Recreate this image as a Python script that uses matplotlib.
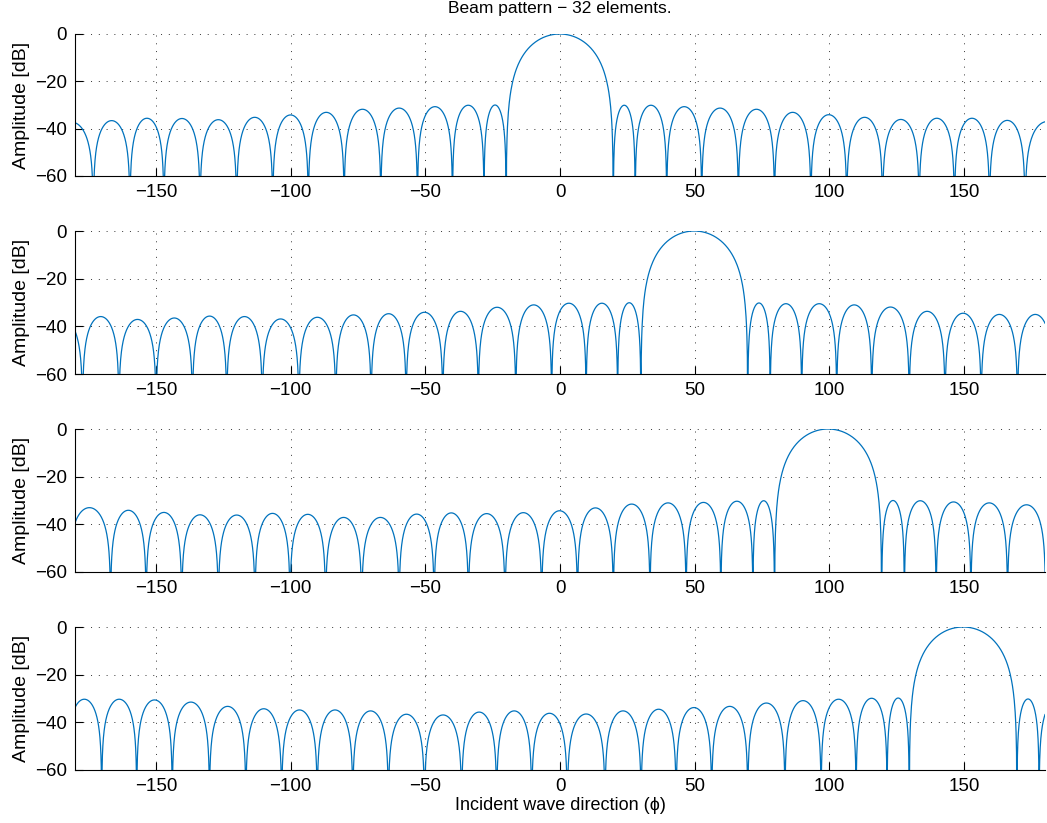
import numpy as np
import matplotlib
matplotlib.use("Agg")
import matplotlib.pyplot as plt

plt.rcParams['font.family'] = ['Liberation Sans', 'DejaVu Sans']

# Null directions (deg) and lobe peak levels (dB),
# one list pair per steering angle (0, 50, 100, 150 deg).
nulls_0 = [-189.0, -173.2, -159.6, -147.0, -133.6, -120.0, -106.6, -93.4, -80.1, -66.5,
           -52.9, -39.9, -28.2, -20.0, 19.8, 27.9, 39.6, 52.6, 66.2, 79.6, 93.1, 106.4,
           119.7, 133.3, 146.4, 159.4, 172.6, 189.0]
peaks_0 = [-37.3, -36.6, -35.6, -35.7, -36.2, -35.2, -34.2, -33.1, -31.8, -31.3, -30.7,
           -30.1, -30.0, 0.0, -30.1, -30.1, -30.7, -31.3, -31.8, -33.1, -34.1, -35.2,
           -36.1, -35.6, -35.6, -36.5, -37.0]

nulls_50 = [-196.0, -177.2, -163.7, -149.9, -136.4, -123.7, -110.5, -96.9, -83.2, -70.1,
            -57.1, -43.5, -30.3, -16.4, -3.1, 9.7, 21.4, 30.0, 69.7, 78.0, 89.7, 102.7,
            115.7, 129.6, 142.9, 156.3, 169.8, 183.0]
peaks_50 = [-35.0, -35.9, -37.1, -36.5, -35.7, -35.9, -36.9, -36.2, -35.2, -34.7, -34.1,
            -33.7, -32.0, -31.0, -30.3, -30.3, -30.1, 0.0, -30.2, -30.5, -30.5, -31.0,
            -31.9, -33.7, -34.5, -35.0, -35.0]

nulls_100 = [-182.5, -166.8, -153.6, -140.4, -126.8, -113.2, -100.2, -87.0, -73.6, -59.7,
             -46.7, -34.0, -20.4, -6.8, 6.5, 19.8, 33.4, 46.8, 59.7, 71.6, 79.6, 119.4,
             127.8, 139.6, 152.5, 166.1, 180.2]
peaks_100 = [-33.0, -34.1, -35.0, -36.0, -36.1, -35.4, -35.8, -37.1, -37.1, -35.7, -35.2,
             -35.5, -35.1, -34.3, -33.1, -31.5, -31.0, -30.8, -30.3, -30.1, 0.0, -30.0,
             -30.1, -30.6, -31.0, -31.8]

nulls_150 = [-183.0, -170.1, -157.1, -143.9, -130.1, -116.6, -103.3, -90.1, -76.9, -63.7,
             -50.3, -36.5, -23.5, -10.5, 2.7, 16.7, 30.1, 43.1, 56.3, 69.7, 83.5, 96.9,
             109.9, 121.4, 129.6, 169.6, 177.8, 189.0]
peaks_150 = [-30.3, -30.3, -30.6, -31.5, -33.3, -34.3, -34.8, -34.8, -35.2, -36.6, -36.9,
             -35.7, -35.2, -36.2, -36.5, -35.2, -34.5, -33.8, -33.3, -31.9, -30.9, -30.3,
             -29.9, -29.8, 0.0, -30.2, -32.0]

panels = [(nulls_0, peaks_0), (nulls_50, peaks_50), (nulls_100, peaks_100), (nulls_150, peaks_150)]

x_ticks = [-150, -100, -50, 0, 50, 100, 150]
y_ticks = [-60, -40, -20, 0]

LINE_COLOR = '#0072BD'
MAIN_SHARPNESS = 1.4


# Build the trace lobe by lobe between the read nulls
def build_trace(nulls, peaks):
    xs, ys = [], []
    for a, b, pk in zip(nulls[:-1], nulls[1:], peaks):
        x = np.linspace(a, b, 240)
        d = (x - (a + b) / 2) / ((b - a) / 2)
        amp = np.clip(np.cos(np.pi * d / 2), 1e-6, None)
        p = MAIN_SHARPNESS if pk == 0 else 1.0
        y = pk + p * 20 * np.log10(amp)
        xs.append(x)
        ys.append(np.maximum(y, -90))
    return np.concatenate(xs), np.concatenate(ys)


W, H = 1047, 823
fig = plt.figure(figsize=(W / 100, H / 100), dpi=100)

left, right = 75 / W, 1045 / W
tops = [34, 231, 429, 627]
heights = [142, 143, 143, 143]

axes = []
for (nulls, peaks), top, h in zip(panels, tops, heights):
    ax = fig.add_axes([left, 1 - (top + h) / H, right - left, h / H])
    x, y = build_trace(nulls, peaks)
    ax.plot(x, y, color=LINE_COLOR, lw=0.9)
    ax.set_xlim(-180, 180)
    ax.set_ylim(-60, 0)
    ax.set_xticks(x_ticks)
    ax.set_yticks(y_ticks)
    ax.grid(True, color='k', ls=(0, (1, 7)), lw=0.7, alpha=0.8)
    ax.spines['top'].set_visible(False)
    ax.spines['right'].set_visible(False)
    ax.tick_params(direction='in', length=6, width=0.8, labelsize=13.5, pad=6)
    ax.set_ylabel('Amplitude [dB]', fontsize=14, labelpad=3)
    axes.append(ax)

fig.text(560 / W, 1 - 9 / H, 'Beam pattern \u2212 32 elements.', ha='center', va='center', fontsize=12.5)
fig.text(560 / W, 1 - 806 / H, 'Incident wave direction (\u03d5)', ha='center', va='center', fontsize=13)

fig.savefig('out.png', dpi=100)
